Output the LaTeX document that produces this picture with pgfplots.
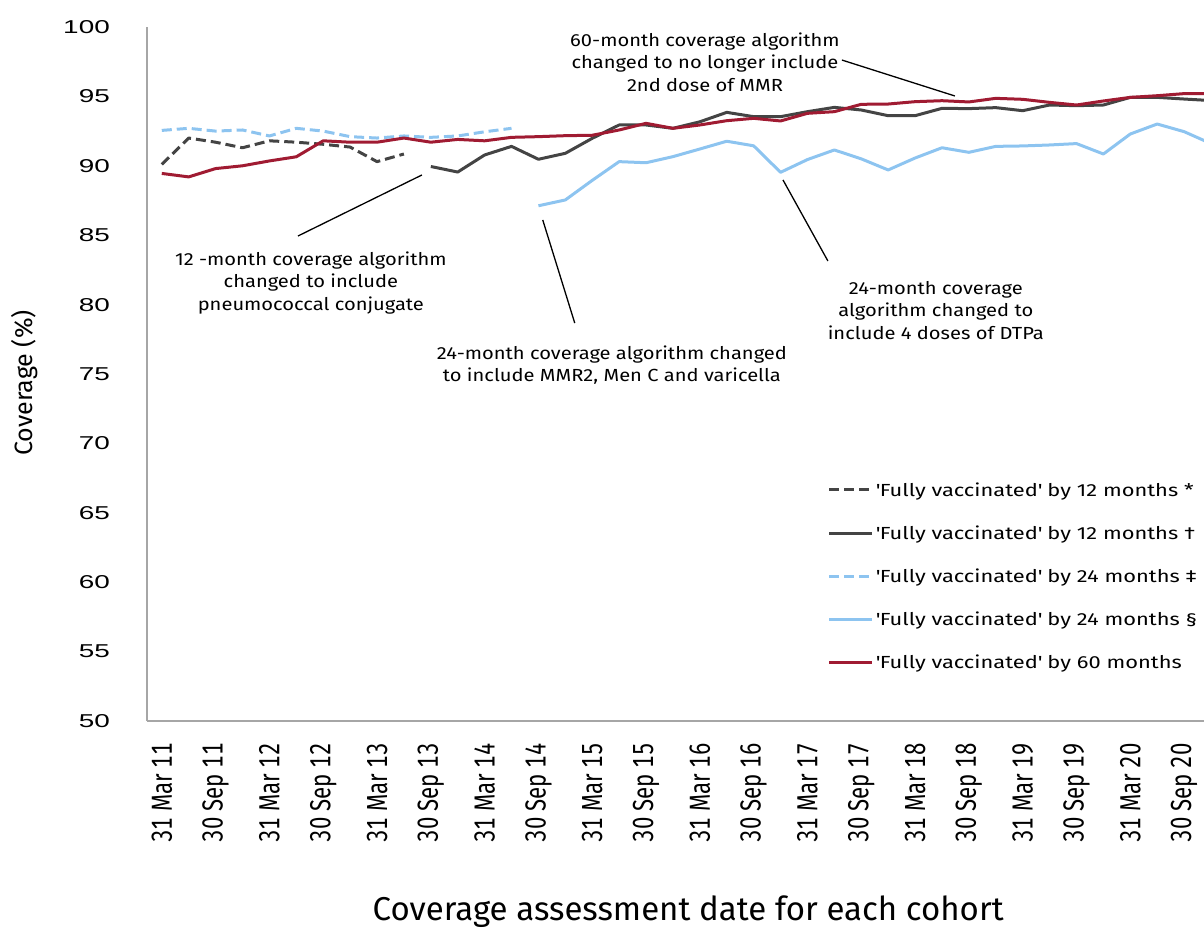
\documentclass[border=0pt]{standalone}
\usepackage{pgfplots}
\pgfplotsset{compat=1.18}
\usepackage{pgfplotstable}
\usepackage{fontspec}
\setmainfont{Fira Sans}
\newfontfamily\ytickf[FakeStretch=1.5]{Liberation Sans}
\newfontfamily\xtickf[FakeStretch=0.765, Numbers=Monospaced]{Fira Sans}
\newfontfamily\legf[FakeStretch=1.25]{Fira Sans}
\newfontfamily\annf[FakeStretch=1.15]{Fira Sans}

\definecolor{dkgray}{RGB}{68,68,68}
\definecolor{ltblue}{RGB}{141,196,240}
\definecolor{wine}{RGB}{160,27,50}
\definecolor{axgray}{RGB}{166,166,166}

% quarter index (0 = 31 Mar 11), coverage %
\pgfplotstableread{
i  d12   s12   d24   s24   m60
0  90.10 nan   92.55 nan   89.45
1  92.00 nan   92.70 nan   89.20
2  91.70 nan   92.50 nan   89.80
3  91.30 nan   92.58 nan   90.00
4  91.80 nan   92.15 nan   90.35
5  91.70 nan   92.70 nan   90.65
6  91.55 nan   92.50 nan   91.80
7  91.35 nan   92.10 nan   91.70
8  90.30 nan   92.00 nan   91.70
9  90.85 nan   92.15 nan   92.00
10 nan   89.95 92.05 nan   91.70
11 nan   89.55 92.15 nan   91.90
12 nan   90.78 92.45 nan   91.80
13 nan   91.40 92.70 nan   92.05
14 nan   90.47 nan   87.12 92.10
15 nan   90.90 nan   87.54 92.17
16 nan   91.98 nan   88.95 92.20
17 nan   92.94 nan   90.30 92.58
18 nan   92.94 nan   90.22 93.06
19 nan   92.70 nan   90.66 92.70
20 nan   93.17 nan   91.21 92.94
21 nan   93.85 nan   91.77 93.25
22 nan   93.54 nan   91.44 93.42
23 nan   93.54 nan   89.53 93.23
24 nan   93.90 nan   90.45 93.78
25 nan   94.21 nan   91.14 93.90
26 nan   94.02 nan   90.50 94.43
27 nan   93.61 nan   89.70 94.45
28 nan   93.61 nan   90.56 94.62
29 nan   94.14 nan   91.30 94.69
30 nan   94.12 nan   90.97 94.60
31 nan   94.19 nan   91.40 94.86
32 nan   93.97 nan   91.43 94.79
33 nan   94.38 nan   91.50 94.57
34 nan   94.33 nan   91.60 94.38
35 nan   94.38 nan   90.85 94.67
36 nan   94.93 nan   92.29 94.93
37 nan   94.93 nan   93.01 95.05
38 nan   94.81 nan   92.46 95.20
39 nan   94.70 nan   91.60 95.20
}\cov

\begin{document}
\begin{tikzpicture}
\begin{axis}[
  scale only axis,
  width=1057pt, height=694pt,
  xmin=-0.55, xmax=38.74,
  ymin=50, ymax=100,
  clip mode=individual,
  axis x line*=bottom, axis y line*=left,
  axis line style={-, draw=axgray, line width=2pt},
  major tick length=0pt,
  ytick={50,55,...,100},
  xtick={0,2,...,38},
  xticklabels={31 Mar 11,30 Sep 11,31 Mar 12,30 Sep 12,31 Mar 13,30 Sep 13,31 Mar 14,30 Sep 14,31 Mar 15,30 Sep 15,31 Mar 16,30 Sep 16,31 Mar 17,30 Sep 17,31 Mar 18,30 Sep 18,31 Mar 19,30 Sep 19,31 Mar 20,30 Sep 20},
  xticklabel style={rotate=90, anchor=east, inner sep=0pt, font=\xtickf\fontsize{29}{29}\selectfont},
  xticklabel shift=22pt,
  /pgf/number format/assume math mode=true,
  yticklabel style={anchor=east, inner sep=0pt, font=\ytickf\fontsize{18.6}{18.6}\selectfont},
  yticklabel shift=37pt,
  ylabel={Coverage (\%)},
  every axis y label/.style={at={(rel axis cs:0,0.487)}, xshift=-122pt, rotate=90, anchor=center, font=\fontsize{25}{25}\selectfont},
  xlabel={Coverage assessment date for each cohort},
  every axis x label/.style={at={(rel axis cs:0.512,0)}, yshift=-191pt, anchor=center, font=\fontsize{33}{33}\selectfont},
  legend style={at={(rel axis cs:0.644,0.347)}, anchor=north west, draw=none, fill=none,
    font=\legf\fontsize{17.5}{17.5}\selectfont, row sep=24pt, inner sep=0pt},
  legend cell align=left,
  legend image code/.code={\draw[#1] (0pt,0pt) -- (43pt,0pt);},
  every axis plot/.append style={line width=3pt, line join=round},
]
\addplot[dkgray, dash pattern=on 10pt off 5pt] table[x=i, y=d12] {\cov};
\addlegendentry{\textquotesingle Fully vaccinated\textquotesingle{} by 12 months *}
\addplot[dkgray] table[x=i, y=s12] {\cov};
\addlegendentry{\textquotesingle Fully vaccinated\textquotesingle{} by 12 months \dag}
\addplot[ltblue, dash pattern=on 10pt off 5pt] table[x=i, y=d24] {\cov};
\addlegendentry{\textquotesingle Fully vaccinated\textquotesingle{} by 24 months \ddag}
\addplot[ltblue] table[x=i, y=s24] {\cov};
\addlegendentry{\textquotesingle Fully vaccinated\textquotesingle{} by 24 months \S}
\addplot[wine] table[x=i, y=m60] {\cov};
\addlegendentry{\textquotesingle Fully vaccinated\textquotesingle{} by 60 months}

\coordinate (O) at (rel axis cs:0,0);

% annotations
\begin{scope}[every node/.style={align=center, font=\annf\fontsize{17.5}{22.5}\selectfont}]
\node at (axis cs:20.19,97.48) {60-month coverage algorithm\\changed to no longer include\\2nd dose of MMR};
\node at (axis cs:5.54,81.56) {12 -month coverage algorithm\\changed to include\\pneumococcal conjugate};
\node at (axis cs:16.73,75.65) {24-month coverage algorithm changed\\to include MMR2, Men C and varicella};
\node at (axis cs:28.77,79.6) {24-month coverage\\algorithm changed to\\include 4 doses of DTPa};
\end{scope}
\draw[black, line width=1.3pt] (axis cs:25.28,97.62) -- (axis cs:29.48,95.03);
\draw[black, line width=1.3pt] (axis cs:5.06,84.94) -- (axis cs:9.67,89.34);
\draw[black, line width=1.3pt] (axis cs:14.16,86.1) -- (axis cs:15.35,78.67);
\draw[black, line width=1.3pt] (axis cs:23.09,88.98) -- (axis cs:24.76,83.14);
\end{axis}
\pgfresetboundingbox
\path (O) ++(-147pt,-212pt) rectangle ++(1204pt,933pt);
\end{tikzpicture}
\end{document}
